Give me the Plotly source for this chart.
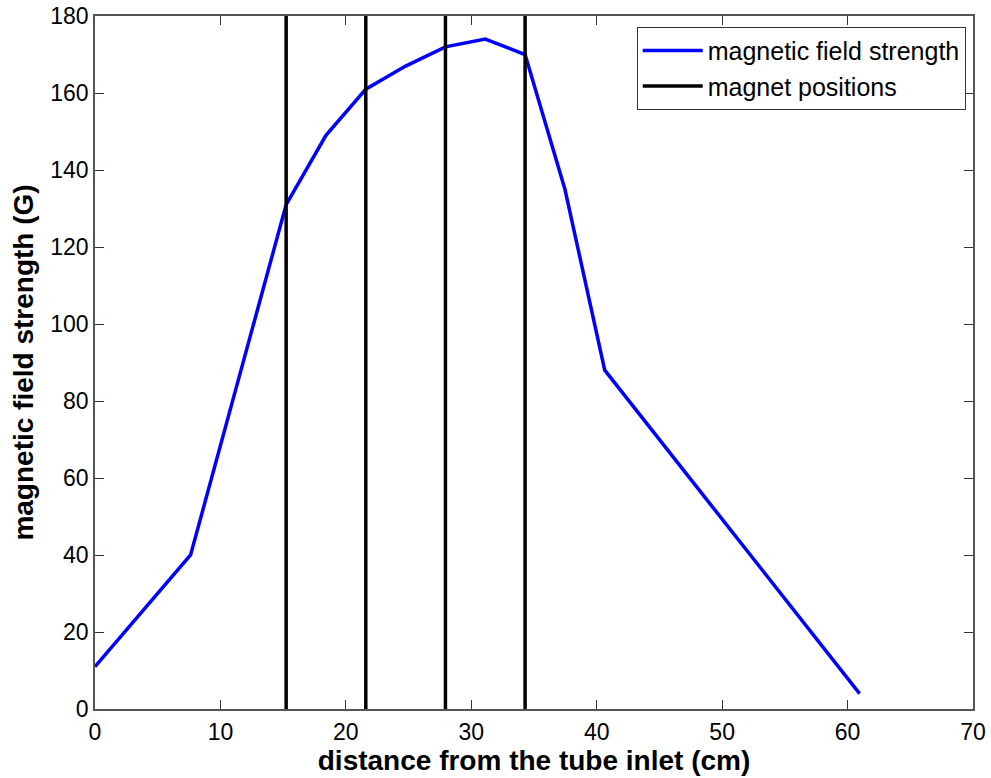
import plotly.graph_objects as go

# distance from tube inlet (cm) and field strength (G)
distance_cm = [0, 7.62, 15.24, 18.415, 21.59, 24.765, 27.94, 31.115, 34.29, 37.465, 40.64, 60.96]
field_G = [11, 40, 131, 149, 161, 167, 172, 174, 170, 135, 88, 4]
magnet_positions_cm = [15.24, 21.59, 27.94, 34.29]
y_range = [0, 180]

mx, my = [], []
for p in magnet_positions_cm:
    mx += [p, p, None]
    my += [y_range[0], y_range[1], None]

fig = go.Figure()
fig.add_trace(go.Scatter(x=distance_cm, y=field_G, mode="lines",
                         name="magnetic field strength",
                         line=dict(color="#0000ff", width=3.5)))
fig.add_trace(go.Scatter(x=mx, y=my, mode="lines", name="magnet positions",
                         line=dict(color="black", width=3.5)))

axis_common = dict(showgrid=False, zeroline=False, showline=True, mirror="ticks",
                   linecolor="#555555", linewidth=1.5, ticks="inside", ticklen=9,
                   tickcolor="#333333", tickwidth=1,
                   tickfont=dict(family="Liberation Sans, Arial", size=23, color="black"))

fig.update_xaxes(range=[0, 70], dtick=10, ticklabelstandoff=2,
                 title=dict(text="<b>distance from the tube inlet (cm)</b>",
                            font=dict(family="Liberation Sans, Arial", size=28, color="black"),
                            standoff=0),
                 **axis_common)
fig.update_yaxes(range=y_range, dtick=20,
                 title=dict(text="<b>magnetic field strength (G)</b>",
                            font=dict(family="Liberation Sans, Arial", size=28, color="black"),
                            standoff=8),
                 **axis_common)

fig.update_layout(
    width=991, height=778,
    margin=dict(l=95, r=18, t=16, b=69, autoexpand=False),
    plot_bgcolor="white", paper_bgcolor="white",
    showlegend=True,
    legend=dict(x=0.9917, y=0.9846, xanchor="right", yanchor="top",
                bgcolor="white", bordercolor="#333333", borderwidth=1,
                font=dict(family="Liberation Sans, Arial", size=25, color="black"),
                itemwidth=60, tracegroupgap=0),
)

fig.write_html("out.html")
